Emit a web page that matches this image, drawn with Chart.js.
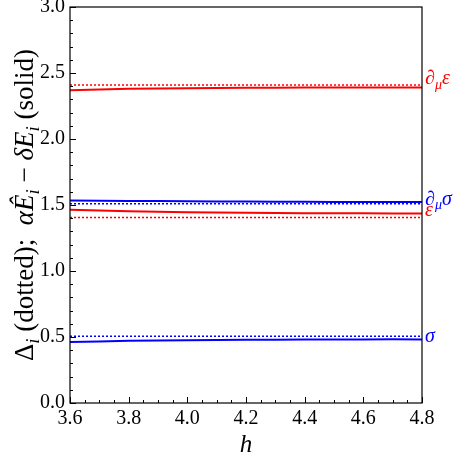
<!DOCTYPE html>
<html>
<head>
<meta charset="utf-8">
<script src="https://cdn.jsdelivr.net/npm/chart.js@4/dist/chart.umd.min.js"></script>
<style>
  html, body { margin: 0; padding: 0; background: #fff; }
  #wrap { width: 456px; height: 461px; }
</style>
</head>
<body>
<div id="wrap"><canvas id="chart" width="456" height="461"></canvas></div>
<script>
// data
const hValues = [3.6, 3.8, 4.0, 4.2, 4.4, 4.6, 4.8];
const dEpsSolid  = [2.370, 2.380, 2.385, 2.388, 2.390, 2.390, 2.390];
const dEpsDotted = [2.410, 2.410, 2.410, 2.410, 2.410, 2.410, 2.410];
const dSigSolid  = [1.535, 1.531, 1.528, 1.526, 1.524, 1.523, 1.523];
const dSigDotted = [1.510, 1.510, 1.510, 1.510, 1.510, 1.510, 1.510];
const epsSolid   = [1.464, 1.452, 1.445, 1.441, 1.438, 1.437, 1.436];
const epsDotted  = [1.406, 1.406, 1.406, 1.406, 1.406, 1.406, 1.406];
const sigSolid   = [0.462, 0.471, 0.476, 0.479, 0.481, 0.482, 0.482];
const sigDotted  = [0.505, 0.505, 0.505, 0.505, 0.505, 0.505, 0.505];

// right-hand labels: name parts and the y value they sit at
const labelNames  = ['dEps', 'dSig', 'eps', 'sig'];
const labelY      = [2.46, 1.545, 1.465, 0.51];
const labelColors = ['red', 'blue', 'red', 'blue'];

const RED = '#ff0000';
const BLUE = '#0000ff';
const SERIF = '"Liberation Serif", "DejaVu Serif", serif';

function pts(ys) {
  return hValues.map((x, i) => ({x: x, y: ys[i]}));
}

function solid(ys, color) {
  return { data: pts(ys), borderColor: color, borderWidth: 2, pointRadius: 0, tension: 0.3, fill: false };
}
function dotted(ys, color) {
  return { data: pts(ys), borderColor: color, borderWidth: 1.5, borderDash: [2, 2], pointRadius: 0, fill: false };
}

// draw a list of text runs: {t, italic, sub}
function drawRuns(ctx, runs, x, y, baseSize, color) {
  ctx.fillStyle = color;
  ctx.textBaseline = 'alphabetic';
  ctx.textAlign = 'left';
  let cx = x;
  runs.forEach(r => {
    const size = r.sub ? baseSize * 0.7 : baseSize;
    ctx.font = (r.italic ? 'italic ' : '') + size + 'px ' + SERIF;
    ctx.fillText(r.t, cx, r.sub ? y + baseSize * 0.22 : y);
    cx += ctx.measureText(r.t).width;
  });
  return cx - x;
}
function runsWidth(ctx, runs, baseSize) {
  let w = 0;
  runs.forEach(r => {
    const size = r.sub ? baseSize * 0.7 : baseSize;
    ctx.font = (r.italic ? 'italic ' : '') + size + 'px ' + SERIF;
    w += ctx.measureText(r.t).width;
  });
  return w;
}

const labelRuns = {
  dEps: [{t: '∂', italic: true}, {t: 'μ', italic: true, sub: true}, {t: 'ε', italic: true}],
  dSig: [{t: '∂', italic: true}, {t: 'μ', italic: true, sub: true}, {t: 'σ', italic: true}],
  eps:  [{t: 'ε', italic: true}],
  sig:  [{t: 'σ', italic: true}]
};

const yTitleRuns = [
  {t: 'Δ'}, {t: 'i', italic: true, sub: true}, {t: ' (dotted);  '},
  {t: 'α', italic: true}, {t: 'Ê', italic: true}, {t: 'i', italic: true, sub: true},
  {t: ' − '}, {t: 'δ', italic: true}, {t: 'E', italic: true}, {t: 'i', italic: true, sub: true},
  {t: ' (solid)'}
];

const isMajor = (v, step) => Math.abs(v / step - Math.round(v / step)) < 1e-6;

// box, inward ticks, titles and end labels
const decor = {
  id: 'decor',
  afterDraw(chart) {
    const ctx = chart.ctx;
    const a = chart.chartArea;
    const xs = chart.scales.x, ys = chart.scales.y;
    ctx.save();
    ctx.strokeStyle = '#000';
    ctx.lineWidth = 1.2;
    ctx.strokeRect(a.left, a.top, a.right - a.left, a.bottom - a.top);
    ctx.lineWidth = 1;
    ctx.beginPath();
    xs.ticks.forEach(t => {
      const px = Math.round(xs.getPixelForValue(t.value)) + 0.5;
      const len = isMajor(t.value, 0.2) ? 6 : 3;
      ctx.moveTo(px, a.bottom);
      ctx.lineTo(px, a.bottom - len);
    });
    ys.ticks.forEach(t => {
      const py = Math.round(ys.getPixelForValue(t.value)) + 0.5;
      const len = isMajor(t.value, 0.5) ? 6 : 3;
      ctx.moveTo(a.left, py);
      ctx.lineTo(a.left + len, py);
    });
    ctx.stroke();

    // x title
    ctx.fillStyle = '#000';
    ctx.font = 'italic 25px ' + SERIF;
    ctx.textAlign = 'center';
    ctx.textBaseline = 'alphabetic';
    ctx.fillText('h', (a.left + a.right) / 2, 452);

    // y title, rotated
    const size = 27;
    const w = runsWidth(ctx, yTitleRuns, size);
    ctx.save();
    ctx.translate(33, (a.top + a.bottom) / 2);
    ctx.rotate(-Math.PI / 2);
    drawRuns(ctx, yTitleRuns, -w / 2, 0, size, '#000');
    ctx.restore();

    // labels at the right end
    labelNames.forEach((n, i) => {
      const py = ys.getPixelForValue(labelY[i]);
      const col = labelColors[i] === 'red' ? RED : BLUE;
      drawRuns(ctx, labelRuns[n], a.right + 3, py + 6, 20, col);
    });
    ctx.restore();
  }
};

new Chart(document.getElementById('chart'), {
  type: 'line',
  data: {
    datasets: [
      dotted(dEpsDotted, RED), solid(dEpsSolid, RED),
      dotted(dSigDotted, BLUE), solid(dSigSolid, BLUE),
      dotted(epsDotted, RED), solid(epsSolid, RED),
      dotted(sigDotted, BLUE), solid(sigSolid, BLUE)
    ]
  },
  options: {
    responsive: false,
    animation: false,
    layout: { padding: { top: 7, right: 34, left: 0, bottom: 0 } },
    plugins: { legend: { display: false }, tooltip: { enabled: false } },
    scales: {
      x: {
        type: 'linear', min: 3.6, max: 4.8,
        grid: { display: false, drawTicks: false },
        border: { display: false },
        ticks: {
          stepSize: 0.05, autoSkip: false, maxRotation: 0, padding: 4,
          color: '#000', font: { family: SERIF, size: 20 },
          callback: v => isMajor(v, 0.2) ? v.toFixed(1) : ''
        },
        afterFit: s => { s.height = 58; s.paddingLeft = 0; s.paddingRight = 0; }
      },
      y: {
        type: 'linear', min: 0, max: 3.0,
        grid: { display: false, drawTicks: false },
        border: { display: false },
        ticks: {
          stepSize: 0.1, autoSkip: false, padding: 5,
          color: '#000', font: { family: SERIF, size: 20 },
          callback: v => isMajor(v, 0.5) ? v.toFixed(1) : ''
        },
        afterFit: s => { s.width = 70; s.paddingTop = 0; s.paddingBottom = 0; }
      }
    }
  },
  plugins: [decor]
});
</script>
</body>
</html>
